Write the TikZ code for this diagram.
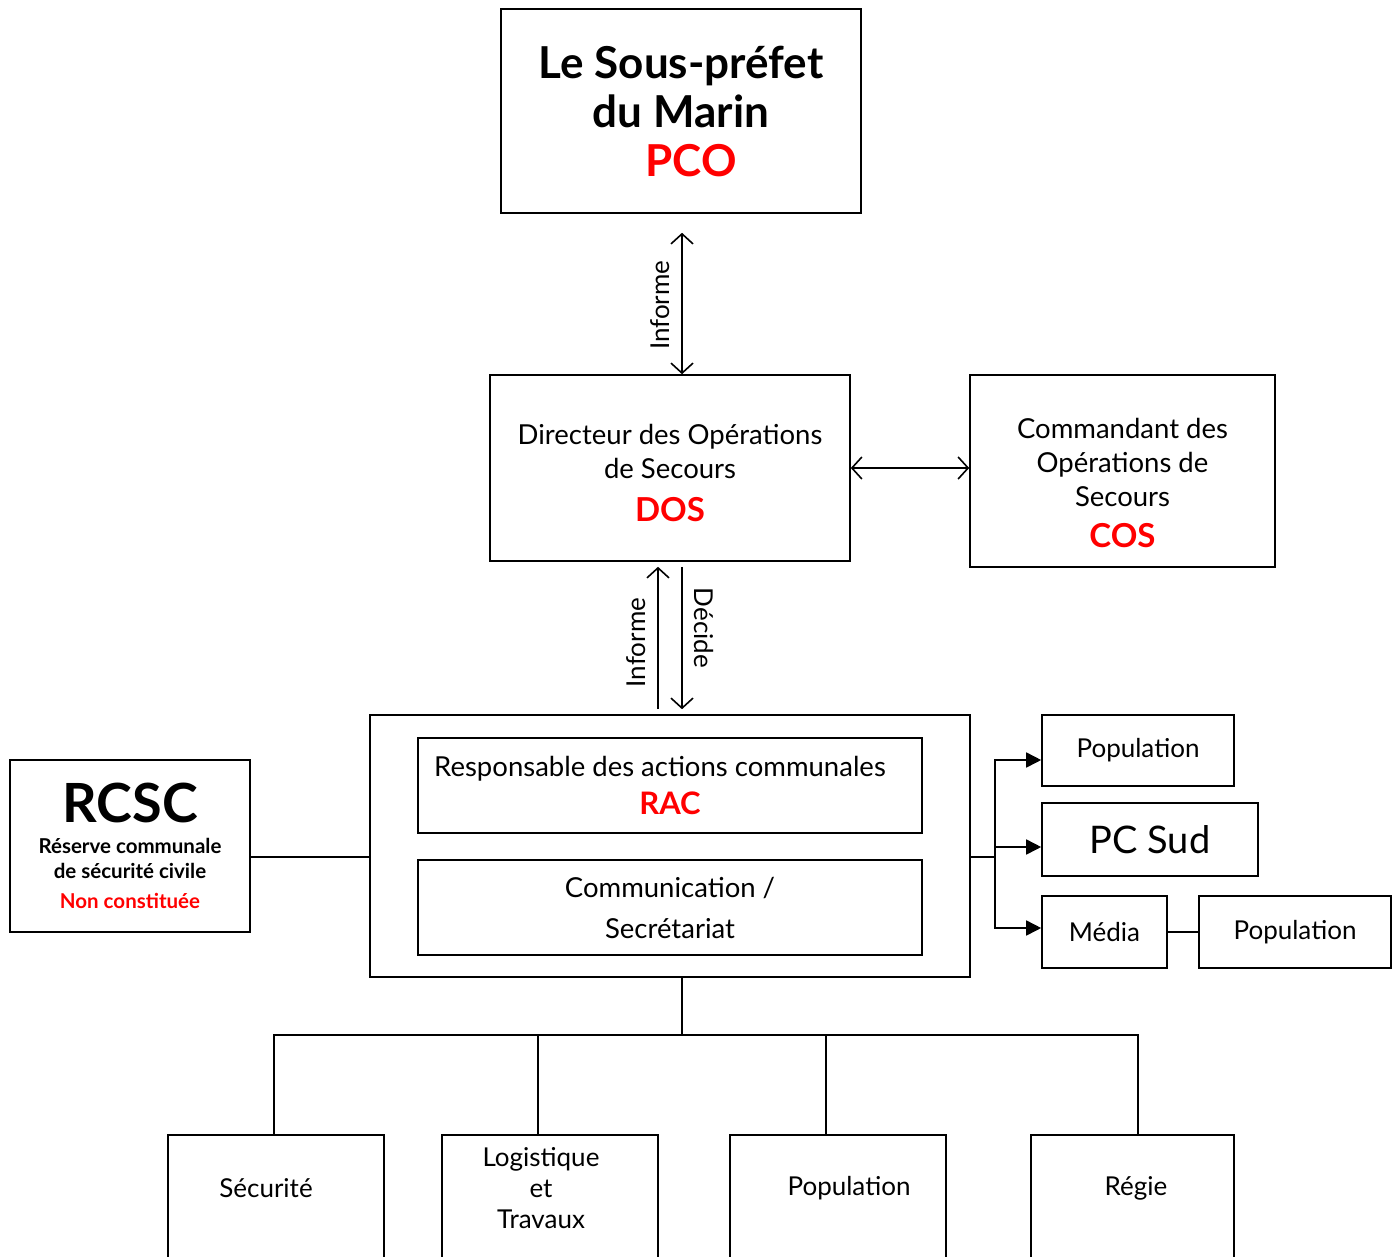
\documentclass[tikz,border=0pt]{standalone}
\usepackage{fontspec}
\setmainfont{Lato}
\usetikzlibrary{arrows.meta,calc}

\begin{document}
\begin{tikzpicture}[x=1pt,y=-1pt,
    boite/.style={draw, line width=1.6pt, inner sep=0pt, align=center, font=\fontsize{26}{34}\selectfont},
    texte/.style={font=\fontsize{27.5}{34}\selectfont},
    lien/.style={line width=1.6pt},
    barbe/.style={lien, {Straight Barb[length=10pt,width=22pt]}-{Straight Barb[length=10pt,width=22pt]}},
    fleche/.style={lien, -{Straight Barb[length=10pt,width=22pt]}},
    pointe/.style={lien, -{Triangle[length=15pt,width=15pt]}},
    etiq/.style={font=\fontsize{26}{30}\selectfont, inner sep=3pt},
    tourne/.style={etiq, inner sep=0pt, outer sep=12pt}
  ]
  \def\rouge#1{\textcolor{red}{\bfseries #1}} % sigles en rouge

  % cadre de l'image (les cases du bas sont coupees)
  \useasboundingbox (0,0) rectangle (1397,1257);
  \clip (0,0) rectangle (1397,1257);

  % Sous-prefet
  \node[boite, minimum width=360pt, minimum height=204pt, font=\fontsize{44}{49}\selectfont\bfseries]
    (pco) at (681,111) {Le Sous-préfet\\du Marin\\\hspace*{20pt}\rouge{PCO}};

  % DOS et COS
  \node[boite, texte, minimum width=360pt, minimum height=186pt] (dos) at (670,468)
    {\mbox{}\\[-4pt]Directeur des Opérations\\de Secours\\[9pt]{\fontsize{33}{38}\selectfont\rouge{DOS}}};
  \node[boite, texte, minimum width=305pt, minimum height=192pt] (cos) at (1122.5,471)
    {\mbox{}\\[11pt]Commandant des\\Opérations de\\Secours\\[7pt]{\fontsize{33}{38}\selectfont\rouge{COS}}};

  % Cellule communale
  \node[boite, minimum width=600pt, minimum height=262pt] (cellule) at (670,846) {};
  \node[boite, minimum width=504pt, minimum height=95pt, font=\fontsize{27.5}{38}\selectfont] (rac) at (670,785.5)
    {\hspace*{-20pt}Responsable des actions communales\\{\fontsize{31}{36}\selectfont\rouge{RAC}}};
  \node[boite, minimum width=504pt, minimum height=95pt, font=\fontsize{27.5}{41}\selectfont] (comm) at (670,907.5)
    {Communication /\\Secrétariat};

  % Reserve communale
  \node[boite, minimum width=240pt, minimum height=172pt, font=\fontsize{20.5}{25}\selectfont\bfseries] (rcsc) at (130,846)
    {{\fontsize{54}{58}\selectfont RCSC}\\[6pt]Réserve communale\\de sécurité civile\\[5pt]\textcolor{red}{Non constituée}};

  % Diffusion a droite
  \node[boite, minimum width=192pt, minimum height=71pt] (pop1) at (1138,750.5) {Population};
  \node[boite, minimum width=216pt, minimum height=73pt, font=\fontsize{38}{44}\selectfont] (pcsud) at (1150,839.5) {PC Sud};
  \node[boite, minimum width=125pt, minimum height=72pt] (media) at (1104.5,932) {Média};
  \node[boite, minimum width=192pt, minimum height=72pt] (pop2) at (1295,932) {Population};

  % Cellules du bas
  \node[boite, minimum width=216pt, minimum height=170pt, anchor=north] (secu) at (276,1134) {};
  \node[boite, minimum width=216pt, minimum height=170pt, anchor=north] (logi) at (550,1134) {};
  \node[boite, minimum width=216pt, minimum height=170pt, anchor=north] (pop3) at (838,1134) {};
  \node[boite, minimum width=203pt, minimum height=170pt, anchor=north] (regie) at (1132.5,1134) {};
  \node[etiq] (secut) at (266,1188) {Sécurité};
  \node[etiq, align=center, font=\fontsize{26}{31}\selectfont] (logit) at (541,1188) {Logistique\\et\\Travaux};
  \node[etiq] (pop3t) at (849,1188) {Population};
  \node[etiq] (regiet) at (1136,1188) {Régie};

  % Liaisons
  \draw[barbe, shorten >=19pt] ([xshift=12pt]dos.north) -- ([xshift=12pt]dos.north |- pco.south)
    node[pos=0.43, rotate=90, anchor=south, tourne] (inf1) {Informe};
  \draw[barbe] (dos.east) -- (cos.west |- dos.east);
  \draw[fleche, shorten <=5pt, shorten >=5pt] ([xshift=-12pt]cellule.north) -- ([xshift=-12pt]dos.south)
    node[pos=0.47, rotate=90, anchor=south, tourne] (inf2) {Informe};
  \draw[fleche, shorten <=5pt, shorten >=5pt] ([xshift=12pt]dos.south) -- ([xshift=12pt]cellule.north)
    node[pos=0.435, rotate=-90, anchor=south, tourne] (dec) {Décide};

  \draw[lien] ([yshift=-11pt]rcsc.east) -- ([yshift=-11pt]cellule.west);

  \coordinate (fourche) at (995,857);
  \coordinate (versud) at ($(pcsud.west)+(0,7.5)$);
  \draw[lien] ([yshift=-11pt]cellule.east) -- (fourche);
  \draw[pointe] (fourche) |- ($(pop1.west)+(0,9.5)$);
  \draw[pointe] (fourche |- versud) -- (versud);
  \draw[pointe] (fourche) |- ($(media.west)+(0,-4)$);
  \draw[lien] (media) -- (pop2);

  \coordinate (barre) at (682,1035);
  \draw[lien] ([xshift=12pt]cellule.south) -- (barre);
  \draw[lien] (barre) -| ([xshift=-2pt]secu.north);
  \draw[lien] (barre) -| ([xshift=-12pt]logi.north);
  \draw[lien] (barre) -| ([xshift=-12pt]pop3.north);
  \draw[lien] (barre) -| ([xshift=5.5pt]regie.north);
\end{tikzpicture}
\end{document}
